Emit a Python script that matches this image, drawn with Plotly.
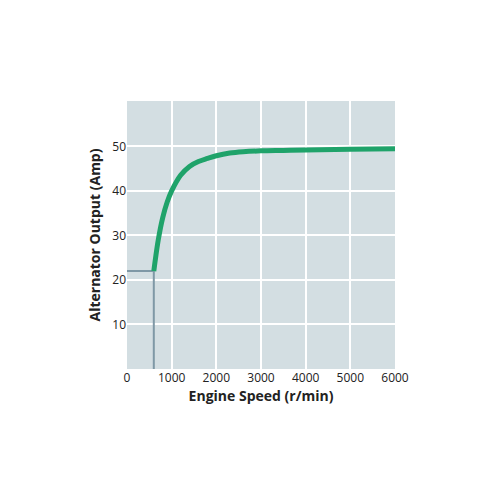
import plotly.graph_objects as go

# Alternator output vs engine speed
speed = [600, 700, 800, 900, 1000, 1200, 1400, 1600, 1800, 2000, 2300, 2600, 3000, 3500, 4000, 5000, 6000]
output = [22, 29, 34, 37.5, 40, 43.5, 45.5, 46.6, 47.3, 47.9, 48.5, 48.8, 49.0, 49.1, 49.2, 49.35, 49.5]

idle_speed = 600
idle_output = 22

fig = go.Figure()

# reference lines at idle
fig.add_trace(go.Scatter(
    x=[0, idle_speed, idle_speed], y=[idle_output, idle_output, 0],
    mode='lines', line=dict(color='#7f98a6', width=2), hoverinfo='skip'
))

fig.add_trace(go.Scatter(
    x=speed, y=output, mode='lines', line=dict(color='#1fa36a', width=5, shape='spline')
))

fig.update_layout(
    width=500, height=500,
    showlegend=False,
    paper_bgcolor='white',
    plot_bgcolor='#d3dee2',
    margin=dict(l=119, r=113, t=93, b=139),
    font=dict(family='Open Sans', size=12, color='#222'),
)
fig.update_xaxes(
    range=[0, 6000], tickvals=[0, 1000, 2000, 3000, 4000, 5000, 6000],
    gridcolor='white', gridwidth=1.5, zeroline=False, showline=False,
    title=dict(text='<b>Engine Speed (r/min)</b>', font=dict(size=14), standoff=6),
)
fig.update_yaxes(
    range=[0, 60.2], tickvals=[10, 20, 30, 40, 50],
    gridcolor='white', gridwidth=1.5, zeroline=False, showline=False,
    title=dict(text='<b>Alternator Output (Amp)</b>', font=dict(size=14), standoff=8),
)

fig.write_html("out.html")
